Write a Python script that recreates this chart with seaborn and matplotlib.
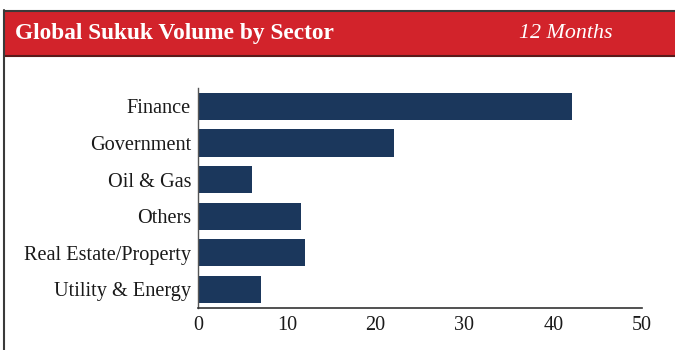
import matplotlib
matplotlib.use("Agg")
import matplotlib.pyplot as plt
import seaborn as sns
import pandas as pd
from matplotlib.patches import Rectangle
from matplotlib.lines import Line2D

sectors = ["Finance", "Government", "Oil & Gas", "Others",
           "Real Estate/Property", "Utility & Energy"]
volumes = [42.1, 22.1, 6.1, 11.6, 12.05, 7.1]
xticks = [0, 10, 20, 30, 40, 50]

title = "Global Sukuk Volume by Sector"
subtitle = "12 Months"

sns.set_theme(style="white")
plt.rcParams['font.family'] = ['Liberation Serif', 'DejaVu Serif']

W, H = 675, 350
fig = plt.figure(figsize=(W / 100, H / 100), dpi=100)
fig.patch.set_facecolor("white")

def fx(px):
    return px / W

def fy(py):
    return 1 - py / H

# Header band
fig.patches.append(Rectangle((fx(4), fy(56)), 1 - fx(4), fy(10) - fy(56),
                             transform=fig.transFigure, facecolor="#D2232B",
                             edgecolor="none", zorder=0))
# Frame lines
fig.lines.append(Line2D([fx(4), 1], [fy(10.5), fy(10.5)], transform=fig.transFigure,
                        color="#3a3a3a", lw=1.5))
fig.lines.append(Line2D([fx(4), 1], [fy(55.5), fy(55.5)], transform=fig.transFigure,
                        color="#5a1a1a", lw=1.5))
fig.lines.append(Line2D([fx(4), fx(4)], [0, fy(10)], transform=fig.transFigure,
                        color="#3a3a3a", lw=1.5))

fig.text(fx(15), fy(34), title, color="white", fontsize=16.8, fontweight="bold",
         va="center", ha="left")
fig.text(fx(613), fy(34), subtitle, color="white", fontsize=15.8, fontstyle="italic",
         va="center", ha="right")

ax = fig.add_axes([fx(198), fy(307.8), fx(642) - fx(198), (307.8 - 88) / H])
df = pd.DataFrame({"sector": sectors, "volume": volumes})
sns.barplot(data=df, x="volume", y="sector", color="#1B375C", saturation=1,
            width=0.74, ax=ax, orient="h", linewidth=0)
ax.set_xlim(0, 50)
ax.set_xticks(xticks)
ax.set_xlabel("")
ax.set_ylabel("")
ax.set_facecolor("white")
for s in ["top", "right"]:
    ax.spines[s].set_visible(False)
ax.spines["left"].set_color("#555555")
ax.spines["left"].set_linewidth(1.0)
ax.spines["bottom"].set_color("#333333")
ax.spines["bottom"].set_linewidth(1.2)
ax.tick_params(axis="x", direction="in", length=5, width=1, color="#333333",
               labelsize=14.5, labelcolor="#1a1a1a", pad=6)
ax.tick_params(axis="y", length=0, labelsize=14.6, labelcolor="#1a1a1a", pad=5)

fig.savefig("out.png", dpi=100, facecolor="white")
